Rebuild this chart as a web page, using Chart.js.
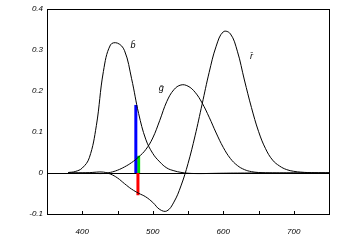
<!DOCTYPE html>
<html>
<head>
<meta charset="UTF-8" />
<script src="https://cdn.jsdelivr.net/npm/chart.js"></script>
<style>
  html, body { margin: 0; padding: 0; background: #fff; }
  #wrap { width: 347px; height: 244px; }
</style>
</head>
<body>
<div id="wrap"><canvas id="cmf" width="347" height="244"></canvas></div>
<script>
// wavelength (nm) and colour matching values
const wavelengths = [380, 390, 400, 410, 420, 430, 440, 450, 460, 470, 480, 490, 500, 510, 520, 530, 540, 550, 560, 570, 580, 590, 600, 610, 620, 630, 640, 650, 660, 670, 680, 690, 700, 710, 720, 730, 740, 750];
const rBar = [0.0000, 0.0001, 0.0003, 0.0008, 0.0021, 0.0022, -0.0026, -0.0121, -0.0261, -0.0393, -0.0494, -0.0581, -0.0717, -0.0890, -0.0926, -0.0710, -0.0315, 0.0228, 0.0906, 0.1677, 0.2453, 0.3093, 0.3443, 0.3397, 0.2971, 0.2268, 0.1597, 0.1017, 0.0593, 0.0315, 0.0169, 0.0082, 0.0041, 0.0021, 0.0011, 0.0005, 0.0003, 0.0001];
const gBar = [0.0000, 0.0000, -0.0001, -0.0004, -0.0011, -0.0012, 0.0015, 0.0068, 0.0149, 0.0254, 0.0391, 0.0569, 0.0854, 0.1286, 0.1747, 0.2032, 0.2147, 0.2118, 0.1970, 0.1709, 0.1361, 0.0975, 0.0625, 0.0356, 0.0183, 0.0083, 0.0033, 0.0012, 0.0004, 0.0001, 0.0000, 0.0000, 0.0000, 0.0000, 0.0000, 0.0000, 0.0000, 0.0000];
const bBar = [0.0012, 0.0036, 0.0121, 0.0371, 0.1154, 0.2477, 0.3123, 0.3167, 0.2982, 0.2299, 0.1449, 0.0826, 0.0478, 0.0270, 0.0122, 0.0055, 0.0015, -0.0006, -0.0013, -0.0014, -0.0011, -0.0008, -0.0005, -0.0003, -0.0002, -0.0001, 0.0000, 0.0000, 0.0000, 0.0000, 0.0000, 0.0000, 0.0000, 0.0000, 0.0000, 0.0000, 0.0000, 0.0000];

// coloured bars: wavelength and height of each component
const barNames = ['b', 'g', 'r'];
const barWavelength = [476, 480, 479];
const barValue = [0.166, 0.042, -0.054];
const barColors = ['#0000ff', '#00e000', '#ff0000'];

// curve labels
const curveLabels = ['b\u0304', 'g\u0304', 'r\u0304'];
const labelX = [472, 512, 640];
const labelY = [0.312, 0.206, 0.283];

const xTicks = [400, 500, 600, 700];

const toPoints = vals => vals.map((v, i) => ({ x: wavelengths[i], y: v }));

const curveSet = (label, vals) => ({
  label,
  data: toPoints(vals),
  borderColor: '#000',
  borderWidth: 1,
  pointRadius: 0,
  tension: 0.4,
  fill: false
});

const datasets = [
  curveSet('r', rBar),
  curveSet('g', gBar),
  curveSet('b', bBar)
];
barNames.forEach((n, i) => {
  datasets.push({
    label: 'bar ' + n,
    data: [{ x: barWavelength[i], y: 0 }, { x: barWavelength[i], y: barValue[i] }],
    borderColor: barColors[i],
    borderWidth: 3,
    borderCapStyle: 'butt',
    pointRadius: 0,
    tension: 0,
    fill: false
  });
});

// frame, inner ticks and curve labels
const decor = {
  id: 'decor',
  afterDraw(chart) {
    const { ctx, chartArea: a, scales: { x, y } } = chart;
    ctx.save();
    ctx.strokeStyle = '#000';
    ctx.lineWidth = 1;
    ctx.strokeRect(Math.round(a.left) + 0.5, Math.round(a.top) + 0.5,
      Math.round(a.right - a.left), Math.round(a.bottom - a.top));
    ctx.beginPath();
    for (let v = 400; v <= 700; v += 50) {
      const px = Math.round(x.getPixelForValue(v)) + 0.5;
      ctx.moveTo(px, Math.round(a.bottom));
      ctx.lineTo(px, Math.round(a.bottom) - 3);
    }
    ctx.stroke();
    ctx.fillStyle = '#000';
    ctx.font = 'italic 9px "Liberation Sans", Arial, sans-serif';
    ctx.textAlign = 'center';
    ctx.textBaseline = 'middle';
    curveLabels.forEach((t, i) => {
      ctx.fillText(t, x.getPixelForValue(labelX[i]), y.getPixelForValue(labelY[i]));
    });
    ctx.restore();
  }
};

new Chart(document.getElementById('cmf'), {
  type: 'line',
  data: { datasets },
  options: {
    responsive: false,
    animation: false,
    layout: { padding: { top: 9, right: 18, left: 0, bottom: 0 } },
    plugins: { legend: { display: false }, tooltip: { enabled: false } },
    scales: {
      x: {
        type: 'linear',
        min: 350,
        max: 750,
        afterBuildTicks: s => { s.ticks = xTicks.map(v => ({ value: v })); },
        afterFit: s => { s.height = 30; },
        grid: { display: false },
        border: { display: false },
        ticks: {
          padding: 5,
          color: '#000',
          font: { family: '"Liberation Sans", Arial, sans-serif', size: 8, style: 'italic' }
        }
      },
      y: {
        min: -0.1,
        max: 0.4,
        afterFit: s => { s.width = 47; },
        grid: {
          drawTicks: false,
          color: c => (c.tick && c.tick.value === 0 ? '#000' : 'rgba(0,0,0,0)')
        },
        border: { display: false },
        ticks: {
          stepSize: 0.1,
          padding: 4,
          color: '#000',
          callback: v => (Math.abs(v) < 1e-9 ? '0' : (Math.round(v * 10) / 10).toString()),
          font: { family: '"Liberation Sans", Arial, sans-serif', size: 8, style: 'italic' }
        }
      }
    }
  },
  plugins: [decor]
});
</script>
</body>
</html>
